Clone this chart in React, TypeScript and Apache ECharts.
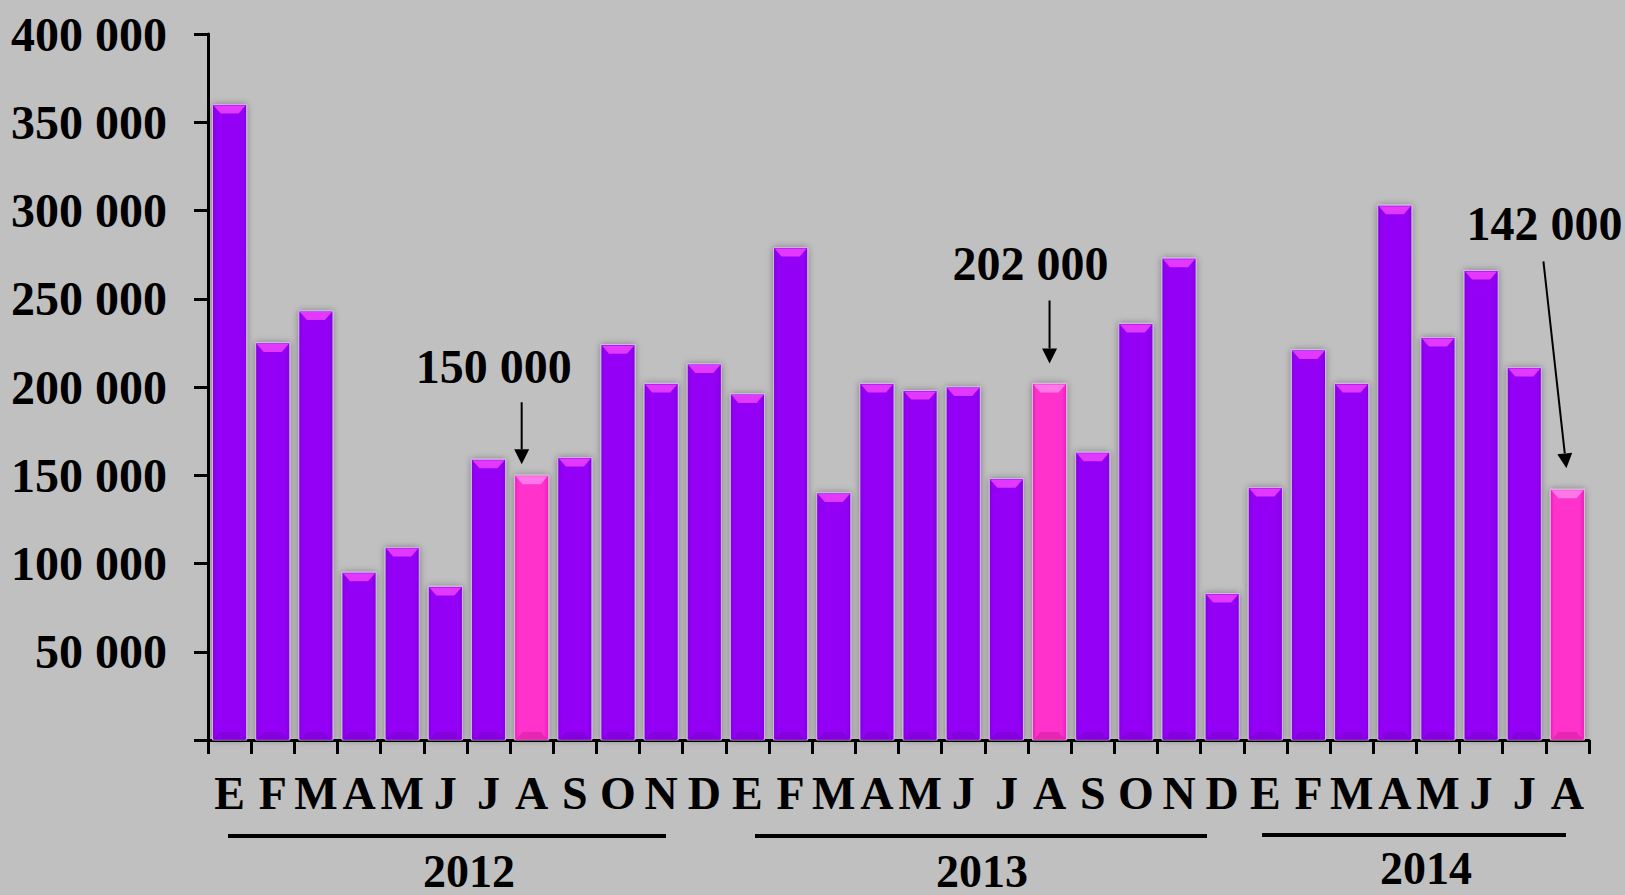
import React, { useEffect, useRef } from 'react';
import * as echarts from 'echarts';

const months = [
  'E', 'F', 'M', 'A', 'M', 'J', 'J', 'A', 'S', 'O', 'N', 'D',
  'E', 'F', 'M', 'A', 'M', 'J', 'J', 'A', 'S', 'O', 'N', 'D',
  'E', 'F', 'M', 'A', 'M', 'J', 'J', 'A',
];
const values2012 = [360000, 225000, 243000, 95000, 109000, 87000, 159000, 150000, 160000, 224000, 202000, 213000];
const values2013 = [196000, 279000, 140000, 202000, 198000, 200000, 148000, 202000, 163000, 236000, 273000, 83000];
const values2014 = [143000, 221000, 202000, 303000, 228000, 266000, 211000, 142000];
const values = [...values2012, ...values2013, ...values2014];
const highlighted = [7, 19, 31];
const years = ['2012', '2013', '2014'];
const annotationTexts = ['150 000', '202 000', '142 000'];

const FONT = "'Liberation Serif', 'Times New Roman', serif";
const PURPLE = '#9300F5';
const PINK = '#FF33CC';

const fmt = (v: number) => (v === 0 ? '' : String(v).replace(/\B(?=(\d{3})+(?!\d))/g, ' '));

export default function App() {
  const ref = useRef<HTMLDivElement>(null);
  useEffect(() => {
    if (!ref.current) return;
    const chart = echarts.init(ref.current, null, { renderer: 'svg' });
    const data = values.map((v, i) => [i, v, highlighted.includes(i) ? 1 : 0]);
    chart.setOption({
      animation: false,
      backgroundColor: '#C0C0C0',
      grid: { left: 208, right: 36, top: 34, bottom: 155, containLabel: false },
      xAxis: {
        type: 'category',
        data: months,
        boundaryGap: true,
        axisLine: { lineStyle: { color: '#000', width: 3 } },
        axisTick: { show: true, length: 14, interval: 0, lineStyle: { color: '#000', width: 3 } },
        axisLabel: {
          interval: 0,
          margin: 30,
          color: '#000',
          fontFamily: FONT,
          fontWeight: 'bold',
          fontSize: 46,
        },
        splitLine: { show: false },
      },
      yAxis: {
        type: 'value',
        min: 0,
        max: 400000,
        interval: 50000,
        axisLine: { show: true, lineStyle: { color: '#000', width: 3 } },
        axisTick: { show: true, length: 14, lineStyle: { color: '#000', width: 3 } },
        axisLabel: {
          margin: 41,
          color: '#000',
          fontFamily: FONT,
          fontWeight: 'bold',
          fontSize: 48,
          formatter: fmt,
        },
        splitLine: { show: false },
      },
      series: [
        {
          type: 'custom',
          data,
          renderItem: (params: any, api: any) => {
            const idx = api.value(0);
            const val = api.value(1);
            const hl = api.value(2) === 1;
            const top = api.coord([idx, val]);
            const base = api.coord([idx, 0]);
            const bw = api.size([1, 0])[0];
            const w = bw * 0.79;
            const x = top[0] - w / 2;
            const y = top[1];
            const h = base[1] - top[1];
            const main = hl ? PINK : PURPLE;
            const edge = hl ? '#E81EB8' : '#8200E0';
            const bevel = hl ? '#FF78EA' : '#E238FF';
            const dark = hl ? '#DC22A8' : '#7E00D2';
            return {
              type: 'group',
              children: [
                {
                  type: 'rect',
                  shape: { x, y, width: w, height: h },
                  style: {
                    fill: new echarts.graphic.LinearGradient(0, 0, 1, 0, [
                      { offset: 0, color: edge },
                      { offset: 0.12, color: main },
                      { offset: 0.85, color: main },
                      { offset: 1, color: edge },
                    ]),
                    stroke: 'rgba(225,200,240,0.8)',
                    lineWidth: 1,
                    shadowBlur: 7,
                    shadowColor: 'rgba(0,0,0,0.35)',
                    shadowOffsetX: 0,
                    shadowOffsetY: 0,
                  },
                },
                {
                  type: 'polygon',
                  shape: { points: [[x + 1, y + 1], [x + w - 1, y + 1], [x + w - 8, y + 9], [x + 8, y + 9]] },
                  style: { fill: bevel },
                },
                {
                  type: 'polygon',
                  shape: { points: [[x + 1, base[1]], [x + w - 1, base[1]], [x + w - 8, base[1] - 8], [x + 8, base[1] - 8]] },
                  style: { fill: dark, opacity: 0.7 },
                },
              ],
            };
          },
        },
      ],
    });

    // Annotations anchored to bar positions
    const annLayout = [
      { idx: 7, labelDx: -38, labelDy: -109, sx: -10, sy: -73, tx: -10, ty: -11 },
      { idx: 19, labelDx: -19, labelDy: -120, sx: 0, sy: -83, tx: 0, ty: -20 },
      { idx: 31, labelDx: -23, labelDy: -266, sx: -24, sy: -228, tx: -1, ty: -21 },
    ];
    const graphics: any[] = [];
    annLayout.forEach((a, k) => {
      const p = chart.convertToPixel({ gridIndex: 0 }, [a.idx, values[a.idx]]) as number[];
      const [cx, cy] = p;
      graphics.push({
        type: 'text',
        x: cx + a.labelDx,
        y: cy + a.labelDy,
        style: {
          text: annotationTexts[k],
          fill: '#000',
          fontFamily: FONT,
          fontWeight: 'bold',
          fontSize: 48,
          align: 'center',
          verticalAlign: 'middle',
        },
      });
      const x1 = cx + a.sx, y1 = cy + a.sy, x2 = cx + a.tx, y2 = cy + a.ty;
      const dx = x2 - x1, dy = y2 - y1;
      const len = Math.sqrt(dx * dx + dy * dy);
      const ux = dx / len, uy = dy / len;
      const hl = 15, hw = 7.5;
      const bx = x2 - ux * hl, by = y2 - uy * hl;
      graphics.push({
        type: 'line',
        shape: { x1, y1, x2: bx, y2: by },
        style: { stroke: '#000', lineWidth: 2 },
      });
      graphics.push({
        type: 'polygon',
        shape: { points: [[x2, y2], [bx - uy * hw, by + ux * hw], [bx + uy * hw, by - ux * hw]] },
        style: { fill: '#000' },
      });
    });

    // Year group lines and labels
    const yearLines = [
      { x1: 228, x2: 666, y: 836, lx: 469, ly: 871 },
      { x1: 755, x2: 1207, y: 836, lx: 982, ly: 871 },
      { x1: 1262, x2: 1566, y: 835, lx: 1426, ly: 868 },
    ];
    yearLines.forEach((yl, k) => {
      graphics.push({
        type: 'line',
        shape: { x1: yl.x1, y1: yl.y, x2: yl.x2, y2: yl.y },
        style: { stroke: '#000', lineWidth: 4 },
      });
      graphics.push({
        type: 'text',
        x: yl.lx,
        y: yl.ly,
        style: {
          text: years[k],
          fill: '#000',
          fontFamily: FONT,
          fontWeight: 'bold',
          fontSize: 46,
          align: 'center',
          verticalAlign: 'middle',
        },
      });
    });
    chart.setOption({ graphic: graphics });

    return () => chart.dispose();
  }, []);
  return (
    <div
      ref={ref}
      style={{ position: 'fixed', left: 0, top: 0, width: 1625, height: 895 }}
    />
  );
}
